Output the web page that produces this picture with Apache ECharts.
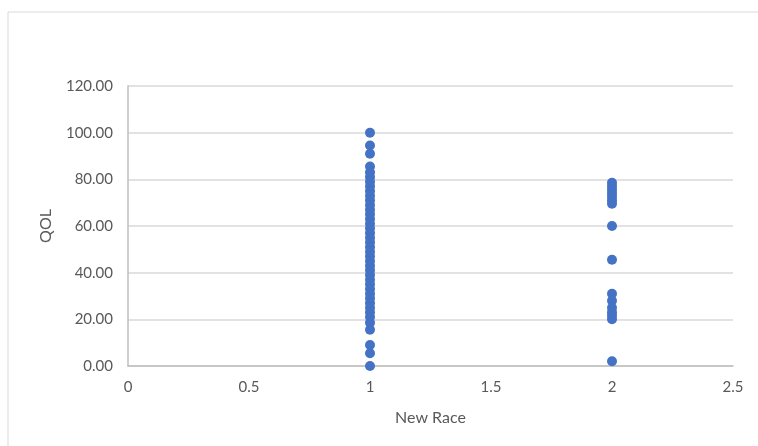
<!DOCTYPE html>
<html>
<head>
<meta charset="utf-8">
<script src="https://cdn.jsdelivr.net/npm/echarts@6/dist/echarts.min.js"></script>
<style>html,body{margin:0;padding:0;background:#fff;}#c{width:758px;height:446px;}</style>
</head>
<body>
<div id="c"></div>
<script>
const xTicks = [0, 0.5, 1, 1.5, 2, 2.5];
const yTicks = [0, 20, 40, 60, 80, 100, 120];
const race1QOL = [100, 94.5, 91, 85.5, 83, 81, 79, 77, 75, 73, 71, 69, 67, 65, 63, 61, 59, 57, 55, 53, 51, 49, 47, 45, 43, 41, 39, 37, 35, 33, 31, 29, 27, 25, 23, 21, 18.5, 15.5, 9, 5.5, 0];
const race2QOL = [78.5, 77, 75.5, 74, 72.5, 71, 69.5, 60, 45.5, 31, 28, 25, 23, 21.5, 20, 2];
const raceX1 = 1;
const raceX2 = 2;

const points = race1QOL.map(v => [raceX1, v]).concat(race2QOL.map(v => [raceX2, v]));
const font = 'Lato, "Open Sans", sans-serif';
const chart = echarts.init(document.getElementById('c'));
chart.setOption({
  animation: false,
  backgroundColor: '#fff',
  graphic: [
    { type: 'polyline', shape: { points: [[8, 446], [8, 12], [758, 12]] }, style: { stroke: '#d9d9d9', lineWidth: 1, fill: null } }
  ],
  grid: { left: 128, right: 25, top: 86, bottom: 80 },
  xAxis: {
    type: 'value', min: xTicks[0], max: xTicks[xTicks.length - 1], interval: 0.5,
    name: 'New Race', nameLocation: 'middle', nameGap: 44,
    nameTextStyle: { color: '#595959', fontSize: 16, fontFamily: font },
    axisLine: { show: true, lineStyle: { color: '#bfbfbf', width: 1.5 } },
    axisTick: { show: false },
    splitLine: { show: false },
    axisLabel: { color: '#595959', fontSize: 15, fontFamily: font, margin: 14, formatter: v => String(v) }
  },
  yAxis: {
    type: 'value', min: yTicks[0], max: yTicks[yTicks.length - 1], interval: 20,
    name: 'QOL', nameLocation: 'middle', nameGap: 74, nameRotate: 90,
    nameTextStyle: { color: '#595959', fontSize: 16, fontFamily: font },
    axisLine: { show: true, lineStyle: { color: '#bfbfbf', width: 1.5 } },
    axisTick: { show: false },
    splitLine: { show: true, lineStyle: { color: '#d9d9d9', width: 1.5 } },
    axisLabel: { color: '#595959', fontSize: 15, fontFamily: font, margin: 15, formatter: v => v.toFixed(2) }
  },
  series: [{
    type: 'scatter',
    data: points,
    symbolSize: 10,
    itemStyle: { color: '#4472c4', opacity: 1 }
  }]
});
</script>
</body>
</html>
